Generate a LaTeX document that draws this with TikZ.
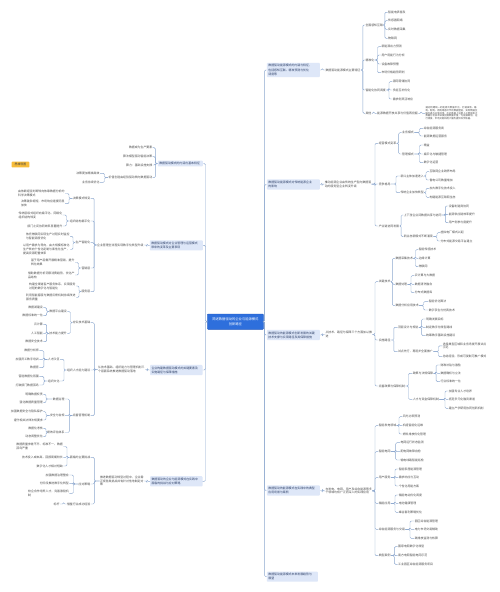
\documentclass[tikz,border=0pt]{standalone}
\usepackage{fontspec}
\setmainfont{Noto Sans CJK SC}
\XeTeXlinebreaklocale "zh"
\XeTeXlinebreakskip=0pt plus 0.5pt
\definecolor{ln}{HTML}{8DA8CF}
\definecolor{mainfill}{HTML}{2E6FDC}
\definecolor{mainedge}{HTML}{1F57BD}
\definecolor{onefill}{HTML}{DEE7F8}
\definecolor{onetxt}{HTML}{2B3D66}
\definecolor{txt}{HTML}{4A4A4A}
\definecolor{orng}{HTML}{F7BC3A}
\newcommand\fleaf{\fontsize{2.9}{3.8}\selectfont}
\newcommand\fone{\fontsize{2.9}{4.2}\selectfont}
\newcommand\fpara{\fontsize{2.35}{2.75}\selectfont}
\newcommand\fcen{\fontsize{3.3}{4.6}\selectfont}
\newcommand\Lnd[4]{\node[lleaf] (#1) at (#2,#3) {#4};}
\newcommand\Rnd[4]{\node[rleaf] (#1) at (#2,#3) {#4};}
\newcommand\lcon[3]{\draw[conn] (#1.west) -- (#1.west -| #3,0) |- (#2.east);}
\newcommand\rcon[3]{\draw[conn] (#1.east) -- (#1.east -| #3,0) |- (#2.west);}
\begin{document}
\begin{tikzpicture}[x=1pt,y=-1pt,
  txtnode/.style={font=\fleaf, text=txt, inner sep=0.3pt, align=left},
  lleaf/.style={txtnode, anchor=east},
  rleaf/.style={txtnode, anchor=west},
  conn/.style={draw=ln, line width=0.45pt, rounded corners=1.2pt},
  lvone/.style={fill=onefill, rounded corners=0.8pt, inner xsep=1.5pt, inner ysep=1.6pt, font=\fone, text=onetxt, align=left}]
\fill[white] (0,0) rectangle (500,592);
\useasboundingbox (0,0) rectangle (500,592);

% center and label
\node[fill=mainfill, draw=mainedge, line width=0.3pt, text=white, font=\fcen, align=center, minimum width=56.2pt, minimum height=15.3pt, inner sep=1pt, rounded corners=0.8pt] (C) at (235.4,321.7) {简述数据驱动的企业与能源模式\\创新路径};
\node[fill=orng, text=black!75, font=\fleaf, minimum width=17.6pt, minimum height=5.6pt, inner sep=0.5pt, rounded corners=0.6pt] (O) at (20.5,164.5) {思维导图};

% ---------- Left branch 1
\node[lvone, anchor=east, text width=42pt] (L1) at (203,163.5) {数据驱动模式的内涵与基本特征};
\Lnd{L1a}{152.7}{147.7}{数据成为生产要素}
\Lnd{L1b}{152.7}{156.7}{算法模型驱动智能决策}
\Lnd{L1c}{152.7}{165}{算力：基础设施支撑}
\Lnd{L1d}{152.7}{177.7}{价值创造由经验驱动转向数据驱动}
\Lnd{L1da}{100}{173.3}{决策更加精准高效}
\Lnd{L1db}{100}{182.3}{业务持续优化}
\lcon{L1}{L1a}{155.4}\lcon{L1}{L1b}{155.4}\lcon{L1}{L1c}{155.4}\lcon{L1}{L1d}{155.4}
\lcon{L1d}{L1da}{104.5}\lcon{L1d}{L1db}{104.5}

% ---------- Left branch 2
\node[lvone, anchor=east, text width=50pt] (L2) at (203,245.3) {数据驱动模式对企业管理与运营模式\\带来的变革及主要表现};
\Lnd{L2x}{144}{245}{企业管理全流程实现数字化转型升级}
\lcon{L2}{L2x}{147}
\Lnd{n1}{90.7}{198.3}{决策模式转变}
\Lnd{n1a}{65}{193.5}{由依赖经验判断转向依靠数据分析的\\科学决策模式}
\Lnd{n1b}{65}{203.7}{决策链条缩短，市场响应速度明显\\加快}
\Lnd{n2}{90.7}{221}{组织结构扁平化}
\Lnd{n2a}{62.7}{215}{传统层级式组织向扁平化、网络化\\组织结构转变}
\Lnd{n2b}{62.7}{226}{部门之间协同效率显著提升}
\Lnd{n3}{90.7}{242.7}{生产智能化}
\Lnd{n3a}{70}{236.3}{依托物联网实现生产过程实时监控\\与智能调度优化}
\Lnd{n3b}{70}{249.5}{以用户需求为导向，由大规模标准化\\生产转向个性化定制与柔性化生产，\\提高资源配置效率}
\Lnd{n4}{90.7}{268}{营销层}
\Lnd{n4a}{75}{262.5}{基于用户画像开展精准营销，提升\\转化效果}
\Lnd{n4b}{75}{275}{借助数据分析洞察消费趋势，优化产\\品结构}
\Lnd{n5}{90.7}{291.7}{服务层}
\Lnd{n5a}{76}{286}{构建全渠道客户服务体系，实现服务\\过程的数字化与智能化}
\Lnd{n5b}{76}{297.5}{利用智能客服与数据反馈机制持续改进\\服务质量}
\lcon{L2x}{n1}{94.2}\lcon{L2x}{n2}{94.2}\lcon{L2x}{n3}{94.2}\lcon{L2x}{n4}{94.2}\lcon{L2x}{n5}{94.2}
\lcon{n1}{n1a}{69}\lcon{n1}{n1b}{69}
\lcon{n2}{n2a}{66.5}\lcon{n2}{n2b}{66.5}
\lcon{n3}{n3a}{73}\lcon{n3}{n3b}{73}
\lcon{n4}{n4a}{78.5}\lcon{n4}{n4b}{78.5}
\lcon{n5}{n5a}{79}\lcon{n5}{n5b}{79}

% ---------- Left branch 3
\node[lvone, anchor=east, text width=49.5pt] (L3) at (202.7,370) {企业构建数据驱动模式的关键要素及\\实施路径与保障措施};
\Lnd{L3x}{145}{369.5}{从技术基础、组织能力与管理机制三\\个层面系统推进数据驱动落地}
\lcon{L3}{L3x}{147.4}
\Lnd{m1}{90.7}{322.7}{夯实技术基础}
\Lnd{m1a}{67.3}{311.7}{数据平台建设}
\Lnd{m1a1}{43.3}{307.7}{数据湖建设}
\Lnd{m1a2}{43.3}{315.7}{数据标准统一化}
\Lnd{m1b}{67.3}{333.3}{技术能力提升}
\Lnd{m1b1}{43.3}{324.3}{云计算}
\Lnd{m1b2}{43.3}{333.3}{人工智能}
\Lnd{m1b3}{43.3}{341.7}{数据安全技术}
\Lnd{m2}{90.7}{370}{组织人才能力建设}
\Lnd{m2a}{60}{359.3}{人才队伍}
\Lnd{m2a1}{39.3}{350.7}{数据分析师}
\Lnd{m2a2}{39.3}{359.3}{加强员工数字培训}
\Lnd{m2a3}{39.3}{367.7}{数据官}
\Lnd{m2b}{60}{381}{组织文化}
\Lnd{m2b1}{39.3}{376.3}{营造数据化氛围}
\Lnd{m2b2}{39.3}{385}{打破部门数据孤岛}
\Lnd{m3}{90.7}{415.7}{完善管理机制}
\Lnd{m3a}{65}{399}{数据治理}
\Lnd{m3a1}{43.3}{394.3}{明确数据权责}
\Lnd{m3a2}{43.3}{402.7}{强化数据质量管理}
\Lnd{m3b}{65}{415.7}{安全与合规}
\Lnd{m3b1}{43.3}{411.7}{加强数据安全与隐私保护}
\Lnd{m3b2}{43.3}{420}{遵守相关法律法规要求}
\Lnd{m3c}{65}{432.5}{绩效评估体系}
\Lnd{m3c1}{43.3}{428.3}{数据化考核}
\Lnd{m3c2}{43.3}{436.7}{动态调整优化}
\lcon{L3x}{m1}{94.3}\lcon{L3x}{m2}{94.3}\lcon{L3x}{m3}{94.3}
\lcon{m1}{m1a}{70.5}\lcon{m1}{m1b}{70.5}
\lcon{m1a}{m1a1}{46.7}\lcon{m1a}{m1a2}{46.7}
\lcon{m1b}{m1b1}{46.7}\lcon{m1b}{m1b2}{46.7}\lcon{m1b}{m1b3}{46.7}
\lcon{m2}{m2a}{64}\lcon{m2}{m2b}{64}
\lcon{m2a}{m2a1}{43.8}\lcon{m2a}{m2a2}{43.8}\lcon{m2a}{m2a3}{43.8}
\lcon{m2b}{m2b1}{43.8}\lcon{m2b}{m2b2}{43.8}
\lcon{m3}{m3a}{69.3}\lcon{m3}{m3b}{69.3}\lcon{m3}{m3c}{69.3}
\lcon{m3a}{m3a1}{46}\lcon{m3a}{m3a2}{46}
\lcon{m3b}{m3b1}{46}\lcon{m3b}{m3b2}{46}
\lcon{m3c}{m3c1}{46}\lcon{m3c}{m3c2}{46}

% ---------- Left branch 4
\node[lvone, anchor=east, text width=49.5pt] (L4) at (202.7,481.3) {数据驱动的企业与能源模式在实践中\\面临的挑战与应对策略};
\Lnd{L4x}{144}{481}{推进数据驱动转型过程中，企业需\\正视各类挑战并有针对性地制定对\\策}
\lcon{L4}{L4x}{147}
\Lnd{p1}{90.7}{457.3}{面临的主要挑战}
\Lnd{p1a}{63.3}{446.5}{数据质量参差不齐、标准不一、数据\\孤岛严重}
\Lnd{p1b}{63.3}{457.3}{技术投入成本高，回报周期较长}
\Lnd{p1c}{63.3}{466}{数字化人才相对短缺}
\Lnd{p2}{90.7}{484}{应对策略}
\Lnd{p2a}{69.3}{475}{加强数据治理整合}
\Lnd{p2b}{69.3}{483.3}{分阶段推进数字化转型}
\Lnd{p2c}{69.3}{493.3}{校企合作培养人才，完善激励机\\制}
\Lnd{p3}{90.7}{504}{借鉴行业成功经验}
\Lnd{p3a}{60}{504}{标杆}
\lcon{L4x}{p1}{94.3}\lcon{L4x}{p2}{94.3}\lcon{L4x}{p3}{94.3}
\lcon{p1}{p1a}{67}\lcon{p1}{p1b}{67}\lcon{p1}{p1c}{67}
\lcon{p2}{p2a}{73.5}\lcon{p2}{p2b}{73.5}\lcon{p2}{p2c}{73.5}
\lcon{p3}{p3a}{63.7}

% trunk left
\lcon{C}{L1}{205.5}\lcon{C}{L2}{205.5}\lcon{C}{L3}{205.5}\lcon{C}{L4}{205.5}

% ---------- Right branch 1
\node[lvone, anchor=west, text width=50pt] (R1) at (266.7,70) {数据驱动能源模式的内涵与特征，\\包括感知互联、精准预测与优化\\调度等};
\Rnd{R1x}{325}{70}{数据驱动能源模式主要特征}
\rcon{R1}{R1x}{322.3}
\Rnd{a1}{365}{25}{全面感知互联}
\Rnd{a11}{387.7}{12.3}{智能电表普及}
\Rnd{a12}{387.7}{20.7}{传感器网络}
\Rnd{a13}{387.7}{29.3}{实时数据采集}
\Rnd{a14}{387.7}{38.3}{物联网}
\Rnd{a2}{365}{60}{精准化}
\Rnd{a21}{381}{46.7}{新能源出力预测}
\Rnd{a22}{381}{55}{用户用能行为分析}
\Rnd{a23}{381}{64}{设备故障预警}
\Rnd{a24}{381}{72.7}{市场价格趋势研判}
\Rnd{a3}{365}{90}{智能化协同调度}
\Rnd{a31}{392.3}{81.7}{源网荷储协同}
\Rnd{a32}{392.3}{90}{多能互补优化}
\Rnd{a33}{392.3}{99}{需求侧灵活响应}
\Rnd{a4}{365}{113.3}{其他}
\Rnd{a4a}{376.7}{113.3}{能源数据开放共享与价值再挖掘}
\node[rleaf, font=\fpara, text width=52pt] (para) at (425,113.3) {通过构建统一的能源大数据平台，打通发电、输电、配电、用电等各环节的数据壁垒，实现数据互联互通与开放共享。在此基础上运用人工智能和大数据分析技术深度挖掘数据价值，为能源规划、运行调度、市场交易和用户服务提供科学依据。};
\rcon{R1x}{a1}{362.8}\rcon{R1x}{a2}{362.8}\rcon{R1x}{a3}{362.8}\rcon{R1x}{a4}{362.8}
\rcon{a1}{a11}{384.8}\rcon{a1}{a12}{384.8}\rcon{a1}{a13}{384.8}\rcon{a1}{a14}{384.8}
\rcon{a2}{a21}{377.5}\rcon{a2}{a22}{377.5}\rcon{a2}{a23}{377.5}\rcon{a2}{a24}{377.5}
\rcon{a3}{a31}{389}\rcon{a3}{a32}{389}\rcon{a3}{a33}{389}
\rcon{a4}{a4a}{373.7}\rcon{a4a}{para}{421.2}

% ---------- Right branch 2
\node[lvone, anchor=west, text width=50pt] (R2) at (266.7,184.5) {数据驱动能源模式对传统能源企业\\的影响};
\Rnd{R2x}{324.3}{184.2}{推动能源企业由传统生产型向数据驱\\动的服务型企业转变升级}
\rcon{R2}{R2x}{322}
\Rnd{b1}{378.3}{143.3}{经营模式变革}
\Rnd{b1a}{401.7}{132.7}{业务模式}
\Rnd{b1a1}{423.3}{128.3}{综合能源服务商}
\Rnd{b1a2}{423.3}{136}{能源数据运营服务}
\Rnd{b1b}{401.7}{154}{管理模式}
\Rnd{b1b1}{423.3}{145}{精益}
\Rnd{b1b2}{423.3}{154}{扁平化与敏捷管理}
\Rnd{b1b3}{423.3}{162.7}{数字化运营}
\Rnd{b2}{378.3}{184}{竞争格局}
\Rnd{b2a}{400}{176}{新兴主体加速进入}
\Rnd{b2a1}{429}{171.7}{互联网企业跨界布局}
\Rnd{b2a2}{429}{180}{售电公司数量增加}
\Rnd{b2b}{400}{192.7}{传统企业加快转型}
\Rnd{b2b1}{429}{188.3}{加大数字化技术投入}
\Rnd{b2b2}{429}{197.3}{构建能源互联网生态}
\Rnd{b3}{378.3}{226}{产业链协同发展}
\Rnd{b3a}{403.3}{215}{上下游企业间数据共享与协同}
\Rnd{b3a1}{448.3}{206}{设备制造商协同}
\Rnd{b3a2}{448.3}{214.3}{能源供应链效率提升}
\Rnd{b3a3}{448.3}{222.7}{用户侧参与度提升}
\Rnd{b3b}{403.3}{236.7}{新业态新模式不断涌现}
\Rnd{b3b1}{440}{232.7}{虚拟电厂模式兴起}
\Rnd{b3b2}{440}{241}{分布式能源交易平台建立}
\rcon{R2x}{b1}{375}\rcon{R2x}{b2}{375}\rcon{R2x}{b3}{375}
\rcon{b1}{b1a}{398.7}\rcon{b1}{b1b}{398.7}
\rcon{b1a}{b1a1}{419.5}\rcon{b1a}{b1a2}{419.5}
\rcon{b1b}{b1b1}{419.5}\rcon{b1b}{b1b2}{419.5}\rcon{b1b}{b1b3}{419.5}
\rcon{b2}{b2a}{396}\rcon{b2}{b2b}{396}
\rcon{b2a}{b2a1}{426}\rcon{b2a}{b2a2}{426}
\rcon{b2b}{b2b1}{426}\rcon{b2b}{b2b2}{426}
\rcon{b3}{b3a}{401.2}\rcon{b3}{b3b}{401.2}
\rcon{b3a}{b3a1}{445.3}\rcon{b3a}{b3a2}{445.3}\rcon{b3a}{b3a3}{445.3}
\rcon{b3b}{b3b1}{437}\rcon{b3b}{b3b2}{437}

% ---------- Right branch 3
\node[lvone, anchor=west, text width=50pt] (R3) at (266.7,335) {数据驱动的能源模式创新发展的关键\\技术支撑与实现路径及其保障措施};
\Rnd{R3x}{325}{334.5}{从技术、路径与保障三个方面加以推\\进}
\rcon{R3}{R3x}{322.3}
\Rnd{c1}{378.3}{281.7}{关键技术}
\Rnd{c1a}{395}{258.3}{数据采集技术}
\Rnd{c1a1}{418.3}{249.7}{智能传感技术}
\Rnd{c1a2}{418.3}{258.3}{边缘计算}
\Rnd{c1a3}{418.3}{266.7}{物联网}
\Rnd{c1b}{395}{284.3}{数据处理}
\Rnd{c1b1}{414.3}{275.7}{云计算与大数据}
\Rnd{c1b2}{414.3}{284.3}{数据清洗融合}
\Rnd{c1b3}{414.3}{292.7}{分布式数据库}
\Rnd{c1c}{395}{305.7}{数据分析应用技术}
\Rnd{c1c1}{428.3}{301.7}{智能优化算法}
\Rnd{c1c2}{428.3}{310}{数字孪生与仿真技术}
\Rnd{c2}{378.3}{340}{实施路径}
\Rnd{c2a}{397.5}{327.3}{顶层设计与规划}
\Rnd{c2a1}{425.7}{319}{明确发展目标}
\Rnd{c2a2}{425.7}{327.3}{制定数字化转型路线}
\Rnd{c2a3}{425.7}{335.7}{统筹数字基础设施建设}
\Rnd{c2b}{397.5}{351.7}{试点先行，再逐步全面推广}
\Rnd{c2b1}{442.3}{345.8}{选择典型区域和业务场景开展试点\\示范}
\Rnd{c2b2}{442.3}{356.7}{总结经验，形成可复制可推广模式}
\Rnd{c3}{378.3}{386}{完善政策与保障机制}
\Rnd{c3a}{412.3}{373.3}{政策与法规保障}
\Rnd{c3a1}{440}{365}{财政补贴与激励}
\Rnd{c3a2}{440}{373.3}{数据确权与立法}
\Rnd{c3a3}{440}{381.7}{行业标准统一化}
\Rnd{c3b}{412.3}{399.3}{人才与资金保障机制}
\Rnd{c3b1}{448.3}{391}{加强专业人才培养}
\Rnd{c3b2}{448.3}{399.3}{拓宽多元化融资渠道}
\Rnd{c3b3}{448.3}{408.3}{建立产学研用协同创新机制}
\rcon{R3x}{c1}{375}\rcon{R3x}{c2}{375}\rcon{R3x}{c3}{375}
\rcon{c1}{c1a}{392.4}\rcon{c1}{c1b}{392.4}\rcon{c1}{c1c}{392.4}
\rcon{c1a}{c1a1}{415.5}\rcon{c1a}{c1a2}{415.5}\rcon{c1a}{c1a3}{415.5}
\rcon{c1b}{c1b1}{411}\rcon{c1b}{c1b2}{411}\rcon{c1b}{c1b3}{411}
\rcon{c1c}{c1c1}{423.5}\rcon{c1c}{c1c2}{423.5}
\rcon{c2}{c2a}{393.8}\rcon{c2}{c2b}{393.8}
\rcon{c2a}{c2a1}{421.7}\rcon{c2a}{c2a2}{421.7}\rcon{c2a}{c2a3}{421.7}
\rcon{c2b}{c2b1}{438.5}\rcon{c2b}{c2b2}{438.5}
\rcon{c3}{c3a}{408.5}\rcon{c3}{c3b}{408.5}
\rcon{c3a}{c3a1}{436.2}\rcon{c3a}{c3a2}{436.2}\rcon{c3a}{c3a3}{436.2}
\rcon{c3b}{c3b1}{445}\rcon{c3b}{c3b2}{445}\rcon{c3b}{c3b3}{445}

% ---------- Right branch 4
\node[lvone, anchor=west, text width=50pt] (R4) at (266.7,490.5) {数据驱动的能源模式在实践中的典型\\应用场景与案例};
\Rnd{R4x}{325}{490.8}{在发电、电网、用户及综合能源等多\\个领域均有广泛而深入的实践应用}
\rcon{R4}{R4x}{322.3}
\Rnd{d1}{378.3}{425.7}{智能发电领域}
\Rnd{d11}{402.3}{416.7}{风光功率预测}
\Rnd{d12}{402.3}{425.7}{机组智能化运维}
\Rnd{d13}{402.3}{434}{燃料排放优化管理}
\Rnd{d2}{378.3}{451.7}{智能电网}
\Rnd{d21}{400}{442.7}{电网运行状态监测}
\Rnd{d22}{400}{451.7}{配电网故障自愈}
\Rnd{d23}{400}{460}{输电线路智能巡检}
\Rnd{d3}{378.3}{477.7}{用户服务}
\Rnd{d31}{398.3}{469}{智能家居能源管理}
\Rnd{d32}{398.3}{477.7}{需求响应与互动}
\Rnd{d33}{398.3}{486}{个性化用能方案}
\Rnd{d4}{378.3}{503.3}{储能应用}
\Rnd{d41}{398.3}{495}{储能电站优化调度}
\Rnd{d42}{398.3}{503.3}{电池健康管理}
\Rnd{d43}{398.3}{512.3}{峰谷套利策略优化}
\Rnd{d5}{378.3}{529.3}{综合能源服务与交易}
\Rnd{d51}{414.3}{521}{园区综合能源管理}
\Rnd{d52}{414.3}{529.3}{电力市场交易辅助}
\Rnd{d53}{414.3}{538.3}{碳排放监测与核算}
\Rnd{d6}{378.3}{555.7}{典型案例}
\Rnd{d61}{397.7}{546.7}{国家电网数字化转型}
\Rnd{d62}{397.7}{555.7}{南方电网智能电网示范}
\Rnd{d63}{397.7}{564.3}{工业园区综合能源服务项目}
\rcon{R4x}{d1}{375}\rcon{R4x}{d2}{375}\rcon{R4x}{d3}{375}\rcon{R4x}{d4}{375}\rcon{R4x}{d5}{375}\rcon{R4x}{d6}{375}
\rcon{d1}{d11}{399}\rcon{d1}{d12}{399}\rcon{d1}{d13}{399}
\rcon{d2}{d21}{395.7}\rcon{d2}{d22}{395.7}\rcon{d2}{d23}{395.7}
\rcon{d3}{d31}{395}\rcon{d3}{d32}{395}\rcon{d3}{d33}{395}
\rcon{d4}{d41}{395}\rcon{d4}{d42}{395}\rcon{d4}{d43}{395}
\rcon{d5}{d51}{410}\rcon{d5}{d52}{410}\rcon{d5}{d53}{410}
\rcon{d6}{d61}{394.3}\rcon{d6}{d62}{394.3}\rcon{d6}{d63}{394.3}

% ---------- Right branch 5
\node[lvone, anchor=west, text width=48pt] (R5) at (266.7,576.7) {数据驱动能源模式未来发展趋势与\\展望};

% trunk right
\rcon{C}{R1}{264.6}\rcon{C}{R2}{264.6}\rcon{C}{R3}{264.6}\rcon{C}{R4}{264.6}\rcon{C}{R5}{264.6}
\end{tikzpicture}
\end{document}
